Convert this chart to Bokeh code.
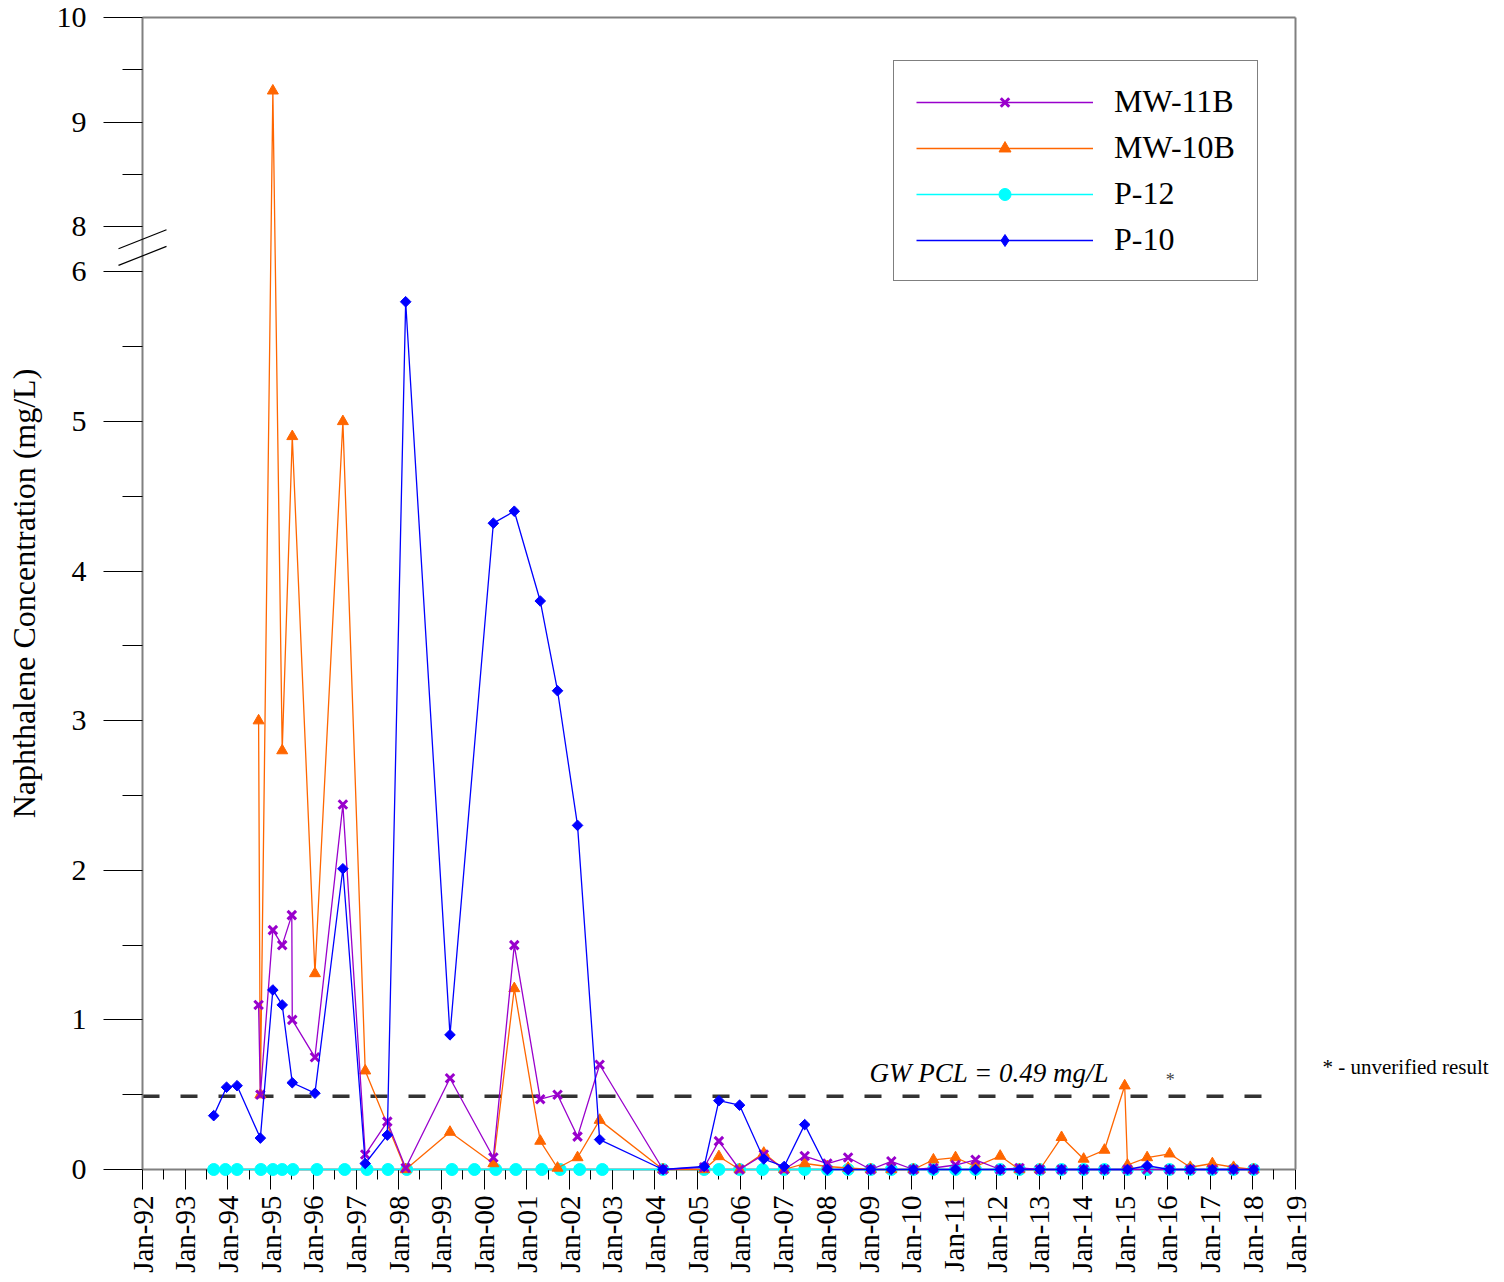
import math
import pandas as pd
from bokeh.plotting import figure
from bokeh.models import (ColumnDataSource, Range1d, FixedTicker, DatetimeTickFormatter,
                          LinearAxis, Legend, LegendItem, Label, Arrow, CustomJSTransform)
from bokeh.transform import transform
from bokeh.embed import file_html
from bokeh.resources import INLINE

FONT = "Liberation Serif"

# ---------------- data ----------------
semi_dates = ["2008-01-15", "2008-07-10", "2009-01-20", "2009-07-15", "2010-01-20",
              "2010-07-10", "2011-01-15", "2011-07-05", "2012-02-01", "2012-07-15",
              "2013-01-05", "2013-07-10", "2014-01-15", "2014-07-12", "2015-01-25",
              "2015-07-12", "2016-01-20", "2016-07-15", "2017-01-20", "2017-07-20",
              "2018-01-08"]

p10_dates = ["1993-09-01", "1993-12-20", "1994-03-20", "1994-10-05", "1995-01-20",
             "1995-04-10", "1995-07-05", "1996-01-15", "1996-09-10", "1997-03-20",
             "1997-09-25", "1998-03-01", "1999-03-15", "2000-03-20", "2000-09-15",
             "2001-04-25", "2001-09-20", "2002-03-10", "2002-09-15", "2004-03-10",
             "2005-02-25", "2005-07-01", "2005-12-25", "2006-07-20", "2007-01-10",
             "2007-07-05"] + semi_dates
p10_vals = [0.36, 0.55, 0.56, 0.21, 1.20, 1.10, 0.58, 0.51, 2.01, 0.04,
            0.23, 5.80, 0.90, 4.32, 4.40, 3.80, 3.20, 2.30, 0.20, 0.00,
            0.02, 0.46, 0.43, 0.07, 0.02, 0.30,
            0.00, 0.00, 0.00, 0.00, 0.00, 0.00, 0.00, 0.00, 0.00, 0.00,
            0.00, 0.00, 0.00, 0.00, 0.00, 0.025, 0.00, 0.00, 0.00, 0.00, 0.00]

mw11b_dates = ["1994-09-20", "1994-10-05", "1995-01-20", "1995-04-10", "1995-07-01",
               "1995-07-05", "1996-01-15", "1996-09-10", "1997-03-20", "1997-09-25",
               "1998-03-01", "1999-03-15", "2000-03-20", "2000-09-15", "2001-04-25",
               "2001-09-20", "2002-03-10", "2002-09-15", "2004-03-10", "2005-02-25",
               "2005-07-01", "2005-12-25", "2006-07-20", "2007-01-10", "2007-07-05"] + semi_dates
mw11b_vals = [1.10, 0.50, 1.60, 1.50, 1.70, 1.00, 0.75, 2.44, 0.10, 0.32,
              0.01, 0.61, 0.08, 1.50, 0.47, 0.50, 0.22, 0.70, 0.00, 0.015,
              0.19, 0.00, 0.10, 0.00, 0.09,
              0.04, 0.08, 0.00, 0.055, 0.00, 0.01, 0.03, 0.065, 0.00, 0.01,
              0.00, 0.00, 0.00, 0.00, 0.00, 0.00, 0.00, 0.00, 0.00, 0.00, 0.00]

mw10b_dates = ["1994-09-20", "1994-10-05", "1995-01-20", "1995-04-10", "1995-07-05",
               "1996-01-15", "1996-09-10", "1997-03-20", "1998-03-01", "1999-03-15",
               "2000-03-20", "2000-09-15", "2001-04-25", "2001-09-20", "2002-03-10",
               "2002-09-15", "2004-03-10", "2005-02-25", "2005-07-01", "2005-12-25",
               "2006-07-20", "2007-01-10", "2007-07-05",
               "2008-01-15", "2008-07-10", "2009-01-20", "2009-07-15", "2010-01-20",
               "2010-07-10", "2011-01-15", "2011-07-05", "2012-02-01", "2012-07-15",
               "2013-01-05", "2013-07-10", "2014-01-15", "2014-07-12", "2015-01-01",
               "2015-01-25", "2015-07-12", "2016-01-20", "2016-07-15", "2017-01-20",
               "2017-07-20", "2018-01-08"]
mw10b_vals = [3.0, 0.5, 9.3, 2.8, 4.9, 1.31, 5.0, 0.66, 0.00, 0.25,
              0.04, 1.21, 0.19, 0.01, 0.08, 0.33, 0.00, 0.00, 0.087, 0.00,
              0.11, 0.00, 0.04,
              0.02, 0.01, 0.00, 0.00, 0.00, 0.065, 0.08, 0.02, 0.09, 0.00,
              0.00, 0.215, 0.07, 0.13, 0.56, 0.03, 0.08, 0.105, 0.015, 0.04,
              0.015, 0.00]

p12_dates = ["1993-09-01", "1993-12-10", "1994-03-20", "1994-10-10", "1995-01-20",
             "1995-04-10", "1995-07-10", "1996-02-01", "1996-09-25", "1997-04-05",
             "1997-10-01", "1998-03-10", "1999-04-01", "1999-10-10", "2000-04-10",
             "2000-09-28", "2001-05-08", "2001-10-12", "2002-03-28", "2002-10-08",
             "2004-03-10", "2005-02-25", "2005-07-01", "2005-12-25", "2006-07-10",
             "2007-01-10", "2007-07-05"] + semi_dates
p12_vals = [0.0] * len(p12_dates)

PCL = 0.49
y_major = [0, 1, 2, 3, 4, 5, 6, 8, 9, 10]
y_minor = [0.5, 1.5, 2.5, 3.5, 4.5, 5.5, 8.5, 9.5]
x_years = list(range(1992, 2020))


# ---------------- broken y axis (6 -> 8) ----------------
def brk(v):
    if v <= 6:
        return v
    if v >= 8:
        return round(6.3 + (v - 8) * 0.7, 6)
    return round(6 + (v - 6) * 0.15, 6)


brk_js = CustomJSTransform(v_func="""
const out = new Array(xs.length);
for (let i = 0; i < xs.length; i++) {
  const v = xs[i];
  out[i] = v <= 6 ? v : (v >= 8 ? 6.3 + (v - 8) * 0.7 : 6 + (v - 6) * 0.15);
}
return out;
""")


def ms(s):
    return pd.Timestamp(s).value / 1e6


def src(d, v):
    return ColumnDataSource(data=dict(date=pd.to_datetime(d), val=v))


# ---------------- layout (canvas pixels) ----------------
W, H = 1500, 1280
FL, FR = 142, 1295      # canvas x of Jan-92 / Jan-19
Y0, YT = 1169, 17       # canvas y of 0 / 10
X0, X1 = ms("1992-01-01"), ms("2019-01-01")
kx = (X1 - X0) / (FR - FL)          # ms per px
ytop = brk(10)
ky = ytop / (Y0 - YT)               # units per px
x_range = Range1d(X0 - FL * kx, X1 + (W - FR) * kx)
y_range = Range1d(-(H - Y0) * ky, ytop + YT * ky)

p = figure(x_axis_type="datetime", width=W, height=H,
           x_range=x_range, y_range=y_range,
           output_backend="svg", toolbar_location=None,
           min_border=0, min_border_left=0, min_border_right=0,
           min_border_top=0, min_border_bottom=0)
p.grid.visible = False
p.outline_line_color = None
p.background_fill_color = "white"
p.border_fill_color = "white"

# x axis
xa = p.xaxis[0]
xa.fixed_location = 0
xa.bounds = (X0, X1)
xa.ticker = FixedTicker(ticks=[ms(f"{y}-01-01") for y in x_years],
                        minor_ticks=[ms(f"{y}-07-01") for y in x_years[:-1]])
fmt = "%b-%y"
xa.formatter = DatetimeTickFormatter(years=fmt, months=fmt, days=fmt, hours=fmt,
                                     minutes=fmt, seconds=fmt, milliseconds=fmt,
                                     microseconds=fmt, hourmin=fmt, minsec=fmt)
xa.major_label_orientation = math.pi / 2
xa.major_label_text_font = FONT
xa.major_label_text_font_size = "29px"
xa.major_label_text_color = "black"
xa.major_label_standoff = 6
xa.major_tick_out = 20
xa.major_tick_in = 0
xa.minor_tick_out = 10
xa.minor_tick_in = 0
xa.major_tick_line_color = "black"
xa.minor_tick_line_color = "black"
xa.axis_line_color = "#808080"
xa.axis_line_width = 2
xa.level = "underlay"

# y axis
ya = p.yaxis[0]
ya.fixed_location = X0
ya.bounds = (0, ytop)
ya.ticker = FixedTicker(ticks=[brk(v) for v in y_major],
                        minor_ticks=[brk(v) for v in y_minor])
ya.major_label_overrides = {brk(v): str(v) for v in y_major}
ya.major_label_text_font = FONT
ya.major_label_text_font_size = "30px"
ya.major_label_text_color = "black"
ya.major_label_standoff = 17
ya.major_tick_out = 39
ya.major_tick_in = 0
ya.minor_tick_out = 20
ya.minor_tick_in = 0
ya.major_tick_line_color = "black"
ya.minor_tick_line_color = "black"
ya.axis_line_color = "#808080"
ya.axis_line_width = 2
ya.axis_label = "Naphthalene Concentration (mg/L)"
ya.axis_label_text_font = FONT
ya.axis_label_text_font_size = "32px"
ya.axis_label_text_font_style = "normal"
ya.axis_label_text_color = "black"
ya.axis_label_standoff = 12

# frame top / right borders
top_ax = LinearAxis(ticker=FixedTicker(ticks=[]), major_tick_out=0, major_tick_in=0,
                    minor_tick_out=0, minor_tick_in=0, major_label_text_font_size="0px",
                    axis_line_color="#808080", axis_line_width=2,
                    fixed_location=ytop, bounds=(X0, X1))
p.add_layout(top_ax, "above")
right_ax = LinearAxis(ticker=FixedTicker(ticks=[]), major_tick_out=0, major_tick_in=0,
                      minor_tick_out=0, minor_tick_in=0, major_label_text_font_size="0px",
                      axis_line_color="#808080", axis_line_width=2,
                      fixed_location=X1, bounds=(0, ytop))
p.add_layout(right_ax, "right")

# break marks on the y axis
for y0, y1 in ((6.154, 6.281), (6.043, 6.170)):
    p.add_layout(Arrow(start=None, end=None, x_start=X0 - 24 * kx, y_start=y0,
                       x_end=X0 + 24 * kx, y_end=y1,
                       line_color="black", line_width=1.2))

# PCL line
p.line(x=[pd.Timestamp("1992-01-01"), pd.Timestamp("2018-08-15")], y=[PCL, PCL],
       line_color="#333333", line_width=3.5, line_dash="17 21")

yt = transform("val", brk_js)

s12 = src(p12_dates, p12_vals)
l12 = p.line("date", yt, source=s12, line_color="#00FFFF", line_width=1.3)
m12 = p.scatter("date", yt, source=s12, marker="circle", size=12,
                fill_color="#00FFFF", line_color="#00FFFF")

s10b = src(mw10b_dates, mw10b_vals)
l10b = p.line("date", yt, source=s10b, line_color="#FF6600", line_width=1.3)
m10b = p.scatter("date", yt, source=s10b, marker="triangle", size=11,
                 fill_color="#FF6600", line_color="#FF6600")

s11b = src(mw11b_dates, mw11b_vals)
l11b = p.line("date", yt, source=s11b, line_color="#9900CC", line_width=1.3)
m11b = p.scatter("date", yt, source=s11b, marker="x", size=12,
                 line_color="#9900CC", line_width=3)

s10 = src(p10_dates, p10_vals)
l10 = p.line("date", yt, source=s10, line_color="#0000FF", line_width=1.3)
m10 = p.scatter("date", yt, source=s10, marker="square", size=7.5, angle=math.pi / 4,
                fill_color="#0000FF", line_color="#0000FF")
# legend-only diamond (one undrawn NaN point)
m10_leg = p.scatter(x=[X0], y=[float("nan")], marker="diamond", size=16,
                    fill_color="#0000FF", line_color="#0000FF")

legend = Legend(items=[LegendItem(label="MW-11B", renderers=[l11b, m11b]),
                       LegendItem(label="MW-10B", renderers=[l10b, m10b]),
                       LegendItem(label="P-12", renderers=[l12, m12]),
                       LegendItem(label="P-10", renderers=[l10, m10_leg])],
                location=(893, H - 281))
legend.label_text_font = FONT
legend.label_text_font_size = "32px"
legend.label_text_color = "black"
legend.glyph_width = 177
legend.glyph_height = 30
legend.label_height = 30
legend.label_standoff = 21
legend.spacing = 9
legend.padding = 22
legend.margin = 0
legend.border_line_color = "black"
legend.border_line_width = 1
legend.background_fill_color = "white"
legend.background_fill_alpha = 1
p.add_layout(legend)

# annotations
p.add_layout(Label(x=ms("2009-01-10"), y=PCL + 23 * ky, text="GW PCL = 0.49 mg/L",
                   text_font=FONT, text_font_style="italic", text_font_size="27px",
                   text_color="black", text_baseline="alphabetic"))
p.add_layout(Label(x=ms("2016-01-25"), y=PCL + 16.5 * ky, text="*", text_align="center",
                   text_font=FONT, text_font_size="18px", text_color="#444444",
                   text_baseline="alphabetic"))
p.add_layout(Label(x=X1 + 27 * kx, y=PCL + 29 * ky, text="* - unverified result",
                   text_font=FONT, text_font_size="21px", text_color="black",
                   text_baseline="alphabetic"))

open("out.html", "w").write(file_html(p, INLINE))
